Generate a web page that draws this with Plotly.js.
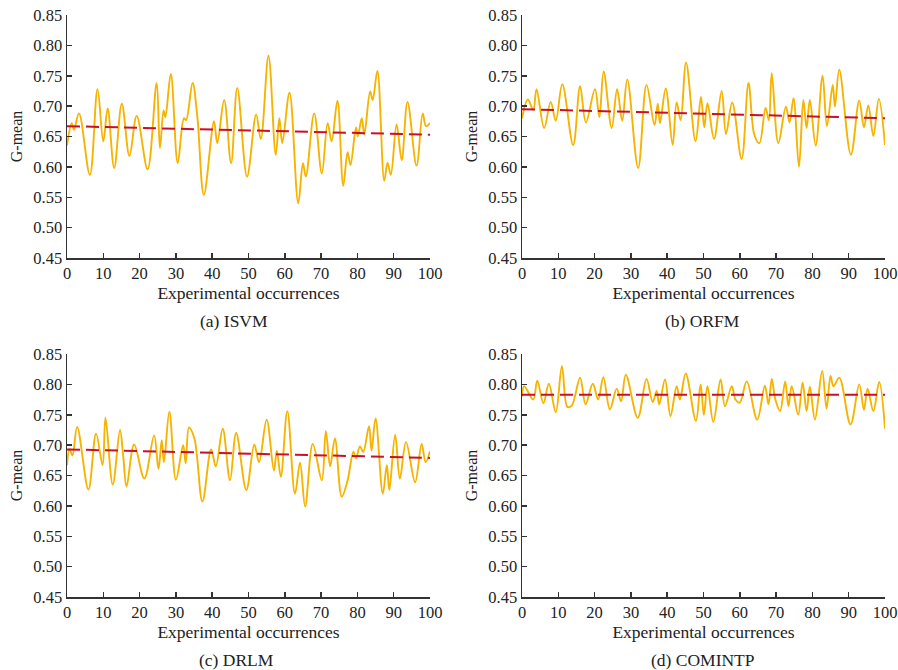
<!DOCTYPE html>
<html>
<head>
<meta charset="utf-8">
<script src="https://cdn.plot.ly/plotly-3.0.1.min.js"></script>
<style>html,body{margin:0;padding:0;background:#fff;}#chart{width:898px;height:670px;}</style>
</head>
<body>
<div id="chart"></div>
<script>
// ---- data ----
const isvmX = [0,1.3,1.9,3.3,6.3,8.4,10.0,11.2,13.0,15.1,17.2,19.2,22.2,24.7,25.6,26.6,27.1,28.6,30.5,32.2,32.8,34.6,35.9,37.7,40.5,41.4,43.3,45.2,46.9,49.6,52.1,53.4,55.5,57.5,58.5,59.3,61.3,63.7,65.0,65.8,68.1,70.2,71.8,72.9,74.5,76.1,77.3,78.1,79.6,80.1,81.2,81.9,83.5,84.2,85.5,87.4,88.3,89.2,90.8,92.2,93.8,96.3,98.0,98.9,100];
const isvmY = [0.635,0.672,0.661,0.688,0.587,0.728,0.642,0.696,0.598,0.704,0.618,0.684,0.596,0.738,0.631,0.693,0.682,0.753,0.606,0.680,0.677,0.738,0.683,0.554,0.675,0.639,0.710,0.606,0.730,0.584,0.686,0.646,0.783,0.620,0.680,0.639,0.722,0.540,0.606,0.584,0.688,0.589,0.672,0.642,0.709,0.569,0.624,0.603,0.665,0.650,0.680,0.653,0.724,0.710,0.758,0.577,0.607,0.587,0.670,0.611,0.707,0.602,0.688,0.667,0.672];
const isvmTrend = [0.667,0.653];

const orfmX = [0,1.6,3.1,4.0,6.1,7.9,9.3,11.1,14.1,16.0,17.6,20.1,21.3,22.5,24.7,26.2,27.6,29.0,32.0,34.3,36.5,37.4,38.0,39.6,41.5,42.6,43.7,45.2,47.8,49.3,50.2,51.1,52.9,55.0,56.2,57.9,60.5,62.4,64.0,65.4,67.1,68.0,68.8,70.6,72.7,73.7,74.8,76.3,77.5,78.4,79.3,80.9,82.8,84.0,85.6,86.2,87.4,90.6,92.9,94.2,95.4,96.8,98.3,100];
const orfmY = [0.680,0.711,0.694,0.728,0.664,0.707,0.676,0.736,0.636,0.733,0.673,0.728,0.682,0.757,0.664,0.728,0.676,0.744,0.598,0.735,0.669,0.704,0.672,0.729,0.636,0.706,0.677,0.772,0.642,0.715,0.665,0.705,0.646,0.725,0.654,0.706,0.613,0.738,0.653,0.639,0.697,0.677,0.754,0.639,0.699,0.673,0.713,0.600,0.710,0.664,0.710,0.635,0.750,0.667,0.735,0.699,0.760,0.620,0.709,0.665,0.701,0.651,0.712,0.636];
const orfmTrend = [0.695,0.680];

const drlmX = [0,0.7,1.5,2.8,5.9,8.0,9.8,10.6,12.6,14.6,15.5,16.4,18.5,21.3,24.0,25.2,26.1,26.7,28.2,30.0,32.0,32.7,33.6,35.1,37.3,39.7,41.0,42.9,44.9,46.6,49.4,51.6,52.9,55.0,57.0,57.8,58.9,60.7,62.8,64.2,65.6,67.7,70.2,71.3,72.5,73.8,75.7,77.3,78.9,79.6,80.7,81.6,83.2,83.9,85.0,87.0,88.1,88.8,90.4,91.7,93.4,95.9,97.7,98.8,100];
const drlmY = [0.667,0.694,0.683,0.730,0.627,0.719,0.667,0.745,0.635,0.725,0.681,0.632,0.701,0.645,0.716,0.661,0.708,0.672,0.755,0.643,0.700,0.670,0.729,0.711,0.607,0.693,0.665,0.727,0.642,0.720,0.626,0.701,0.672,0.742,0.658,0.691,0.648,0.756,0.620,0.671,0.599,0.702,0.642,0.723,0.665,0.711,0.615,0.642,0.689,0.678,0.698,0.689,0.731,0.691,0.744,0.620,0.667,0.626,0.717,0.645,0.705,0.639,0.702,0.672,0.690];
const drlmTrend = [0.693,0.679];

const comintpX = [0,0.6,3.1,4.2,5.9,7.4,9.3,11.0,12.5,13.7,16.0,17.5,19.5,21.0,22.4,24.2,26.1,27.3,28.6,31.9,34.3,36.0,37.1,37.8,39.4,40.9,42.6,43.5,45.1,47.9,49.2,50.1,51.1,52.7,54.7,55.9,57.8,58.8,60.0,61.9,64.8,66.9,67.9,68.8,69.8,71.1,72.5,73.4,74.3,76.1,77.3,78.4,79.3,80.7,82.7,83.9,85.0,85.8,87.4,90.5,92.9,94.2,95.2,96.8,98.4,100];
const comintpY = [0.780,0.797,0.775,0.806,0.769,0.801,0.754,0.830,0.763,0.765,0.811,0.767,0.801,0.775,0.812,0.759,0.793,0.772,0.816,0.745,0.809,0.771,0.789,0.767,0.808,0.748,0.797,0.775,0.818,0.740,0.800,0.750,0.797,0.738,0.808,0.764,0.797,0.775,0.770,0.805,0.742,0.798,0.767,0.809,0.775,0.756,0.805,0.764,0.797,0.750,0.803,0.756,0.796,0.742,0.822,0.760,0.814,0.797,0.811,0.734,0.800,0.758,0.793,0.756,0.804,0.727];
const comintpTrend = [0.783,0.783];

const trendX = [0,100];
const captions = ['(a) ISVM','(b) ORFM','(c) DRLM','(d) COMINTP'];
const xTickVals = [0,10,20,30,40,50,60,70,80,90,100];
const yTickVals = [0.45,0.50,0.55,0.60,0.65,0.70,0.75,0.80,0.85];

// ---- build ----
const W = 898, H = 670;
const FONT = 'Liberation Serif, Times New Roman, serif';
const LINE_COLOR = '#F6B400';
const TREND_COLOR = '#C8102E';
const panels = [
  {x: isvmX, y: isvmY, t: isvmTrend, px: [67,430], py: [15,258], cap: 234},
  {x: orfmX, y: orfmY, t: orfmTrend, px: [522,885], py: [15,258], cap: 702},
  {x: drlmX, y: drlmY, t: drlmTrend, px: [67,430], py: [354,597], cap: 236},
  {x: comintpX, y: comintpY, t: comintpTrend, px: [522,885], py: [354,597], cap: 703}
];

const traces = [];
const layout = {
  width: W, height: H,
  margin: {l:0, r:0, t:0, b:0},
  paper_bgcolor: '#fff', plot_bgcolor: '#fff',
  showlegend: false,
  font: {family: FONT, color: '#222', size: 16},
  annotations: []
};

panels.forEach((p, i) => {
  const n = i + 1;
  const xa = n === 1 ? 'x' : 'x' + n;
  const ya = n === 1 ? 'y' : 'y' + n;
  traces.push({
    x: p.x, y: p.y, xaxis: xa, yaxis: ya, type: 'scatter', mode: 'lines',
    line: {color: LINE_COLOR, width: 1.9, shape: 'spline', smoothing: 1},
    hoverinfo: 'skip'
  });
  traces.push({
    x: trendX, y: p.t, xaxis: xa, yaxis: ya, type: 'scatter', mode: 'lines',
    line: {color: TREND_COLOR, width: 2, dash: '13px,6px'},
    hoverinfo: 'skip'
  });
  const axCommon = {
    showgrid: false, zeroline: false, showline: true,
    linecolor: '#333', linewidth: 1.5,
    ticks: 'inside', ticklen: 5, tickwidth: 1.5, tickcolor: '#333',
    tickfont: {family: FONT, size: 16.5, color: '#222'},
    automargin: false, fixedrange: true
  };
  layout['xaxis' + (n === 1 ? '' : n)] = Object.assign({}, axCommon, {
    domain: [p.px[0] / W, p.px[1] / W],
    anchor: ya, range: [0, 100],
    tickmode: 'array', tickvals: xTickVals,
    title: {text: 'Experimental occurrences', font: {family: FONT, size: 17.5, color: '#222'}, standoff: 4}
  });
  layout['yaxis' + (n === 1 ? '' : n)] = Object.assign({}, axCommon, {
    domain: [(H - p.py[1]) / H, (H - p.py[0]) / H],
    anchor: xa, range: [0.45, 0.85],
    tickmode: 'array', tickvals: yTickVals, tickformat: '.2f',
    title: {text: 'G-mean', font: {family: FONT, size: 16, color: '#222'}, standoff: 6}
  });
  layout.annotations.push({
    text: captions[i], xref: 'paper', yref: 'paper',
    x: p.cap / W, y: (H - (p.py[1] + 63)) / H,
    xanchor: 'center', yanchor: 'middle', showarrow: false,
    font: {family: FONT, size: 17.5, color: '#222'}
  });
});

Plotly.newPlot('chart', traces, layout, {staticPlot: true, displayModeBar: false});
</script>
</body>
</html>
